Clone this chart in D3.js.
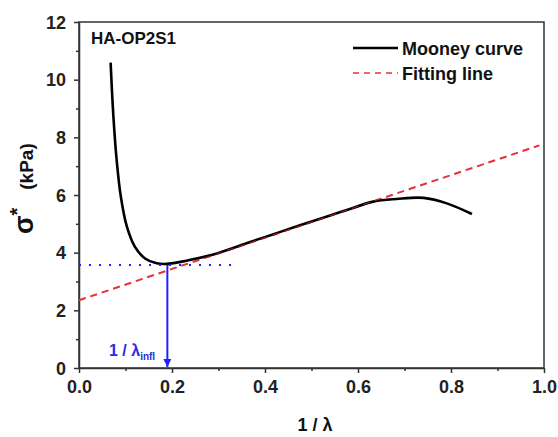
<!DOCTYPE html>
<html lang="en">
<head>
<meta charset="utf-8">
<title>Mooney curve</title>
<style>
  html, body { margin: 0; padding: 0; background: #fff; }
  svg { display: block; font-family: Arial, "Liberation Sans", Helvetica, sans-serif; font-weight: bold; }
  .axis path, .axis line { stroke: #333; stroke-width: 1.5px; }
  .axis text { font-size: 18px; font-weight: bold; fill: #222; font-family: Arial, "Liberation Sans", sans-serif; }
</style>
</head>
<body>
<svg></svg>
<script src="https://d3js.org/d3.v7.min.js"></script>
<script>
// data
let mooneyX = [0.068, 0.074, 0.081, 0.090, 0.103, 0.120, 0.142, 0.167, 0.189, 0.221, 0.239, 0.289, 0.368, 0.420, 0.475, 0.540, 0.576, 0.633, 0.683, 0.741, 0.791, 0.845];
let mooneyY = [10.59, 8.72, 7.21, 5.94, 4.90, 4.21, 3.80, 3.63, 3.61, 3.69, 3.75, 3.94, 4.37, 4.65, 4.95, 5.29, 5.48, 5.77, 5.86, 5.90, 5.71, 5.34];
let fitX = [0, 0.99];
let fitY = [2.35, 7.72];
let inflX = 0.19, inflY = 3.57, dottedEnd = 0.33;
let xTicks = [0, 0.2, 0.4, 0.6, 0.8, 1.0];
let yTicks = [0, 2, 4, 6, 8, 10, 12];
let legendLabels = ["Mooney curve", "Fitting line"];

let w = 558, h = 437;
let m = { left: 79, right: 14, top: 22, bottom: 69 };

let svg = d3.select("svg").attr("width", w).attr("height", h);

let x = d3.scaleLinear().domain([0, 1]).range([m.left, w - m.right]);
let y = d3.scaleLinear().domain([0, 12]).range([h - m.bottom, m.top]);

// frame
svg.append("rect")
  .attr("x", x(0)).attr("y", y(12))
  .attr("width", x(1) - x(0)).attr("height", y(0) - y(12))
  .attr("fill", "none").attr("stroke", "#333").attr("stroke-width", 1.5);

// minor ticks
svg.append("g").attr("class", "axis")
  .attr("transform", `translate(0,${y(0)})`)
  .call(d3.axisBottom(x).tickValues(d3.range(0.1, 1, 0.2)).tickSize(3).tickFormat(""))
  .call(g => g.select(".domain").remove());
svg.append("g").attr("class", "axis")
  .attr("transform", `translate(${x(0)},0)`)
  .call(d3.axisLeft(y).tickValues(d3.range(1, 12, 2)).tickSize(3).tickFormat(""))
  .call(g => g.select(".domain").remove());

// major ticks
svg.append("g").attr("class", "axis")
  .attr("transform", `translate(0,${y(0)})`)
  .call(d3.axisBottom(x).tickValues(xTicks).tickSize(5).tickPadding(7).tickSizeOuter(0).tickFormat(d3.format(".1f")));
svg.append("g").attr("class", "axis")
  .attr("transform", `translate(${x(0)},0)`)
  .call(d3.axisLeft(y).tickValues(yTicks).tickSize(5).tickPadding(8).tickSizeOuter(0).tickFormat(d3.format("d")))
  .call(g => g.selectAll("text").attr("dy", "0.35em"));

let fitLine = d3.line().x(d => x(d[0])).y(d => y(d[1]));
let fitPts = fitX.map((d, i) => [d, fitY[i]]);

// fitting line
svg.append("path")
  .datum(fitPts)
  .attr("d", fitLine)
  .attr("fill", "none").attr("stroke", "#e8323a").attr("stroke-width", 2)
  .attr("stroke-dasharray", "7,5");

// mooney curve
svg.append("path")
  .datum(mooneyX.map((d, i) => [d, mooneyY[i]]))
  .attr("d", d3.line().curve(d3.curveCatmullRom).x(d => x(d[0])).y(d => y(d[1])))
  .attr("fill", "none").attr("stroke", "#000").attr("stroke-width", 2.6);

// thin fit on top so the red shows through where they overlap
svg.append("path")
  .datum(fitPts)
  .attr("d", fitLine)
  .attr("fill", "none").attr("stroke", "#e8323a").attr("stroke-width", 1)
  .attr("stroke-dasharray", "7,5").attr("opacity", 0.7);

// inflection marker
svg.append("line")
  .attr("x1", x(0)).attr("x2", x(dottedEnd))
  .attr("y1", y(inflY)).attr("y2", y(inflY))
  .attr("stroke", "#1f1fff").attr("stroke-width", 2).attr("stroke-dasharray", "2,8");

svg.append("defs").append("marker")
  .attr("id", "arr").attr("viewBox", "0 0 10 10").attr("refX", 10).attr("refY", 5)
  .attr("orient", "auto")
  .attr("markerUnits", "userSpaceOnUse").attr("markerWidth", 9).attr("markerHeight", 8)
  .append("path").attr("d", "M0,0 L10,5 L0,10 Z").attr("fill", "#1f1fff");

svg.append("line")
  .attr("x1", x(inflX)).attr("x2", x(inflX))
  .attr("y1", y(inflY)).attr("y2", y(0) - 1)
  .attr("stroke", "#1f1fff").attr("stroke-width", 2).attr("marker-end", "url(#arr)");

let lab = svg.append("text").attr("x", 109).attr("y", 356)
  .attr("fill", "#2a2ae0").style("font-size", "16px");
lab.append("tspan").text("1 / λ");
lab.append("tspan").attr("dy", 4).style("font-size", "10px").text("infl");

// sample name
svg.append("text").attr("x", 91).attr("y", 44)
  .style("font-size", "17px").attr("fill", "#111").text("HA-OP2S1");

// legend
let lg = svg.append("g").attr("transform", "translate(353,48)");
lg.append("line").attr("x1", 0).attr("x2", 45).attr("y1", 0).attr("y2", 0)
  .attr("stroke", "#000").attr("stroke-width", 2.6);
lg.append("line").attr("x1", 0).attr("x2", 45).attr("y1", 25).attr("y2", 25)
  .attr("stroke", "#e8323a").attr("stroke-width", 1.5).attr("stroke-dasharray", "6,5");
lg.selectAll("text.lab").data(legendLabels).enter().append("text")
  .attr("class", "lab")
  .attr("x", 49).attr("y", (d, i) => 7 + i * 25)
  .style("font-size", "18px").attr("fill", "#111").text(d => d);

// axis titles
svg.append("text").attr("x", 315).attr("y", 431).attr("text-anchor", "middle")
  .style("font-size", "18px").attr("fill", "#111").text("1 / λ");

let yt = svg.append("text").attr("transform", "translate(33,234) rotate(-90)")
  .attr("fill", "#111");
yt.append("tspan").style("font-size", "27px").text("σ");
yt.append("tspan").attr("dy", -9).style("font-size", "20px").text("*");
yt.append("tspan").attr("dy", 9).attr("dx", 18).style("font-size", "19px").text("(kPa)");
</script>
</body>
</html>
